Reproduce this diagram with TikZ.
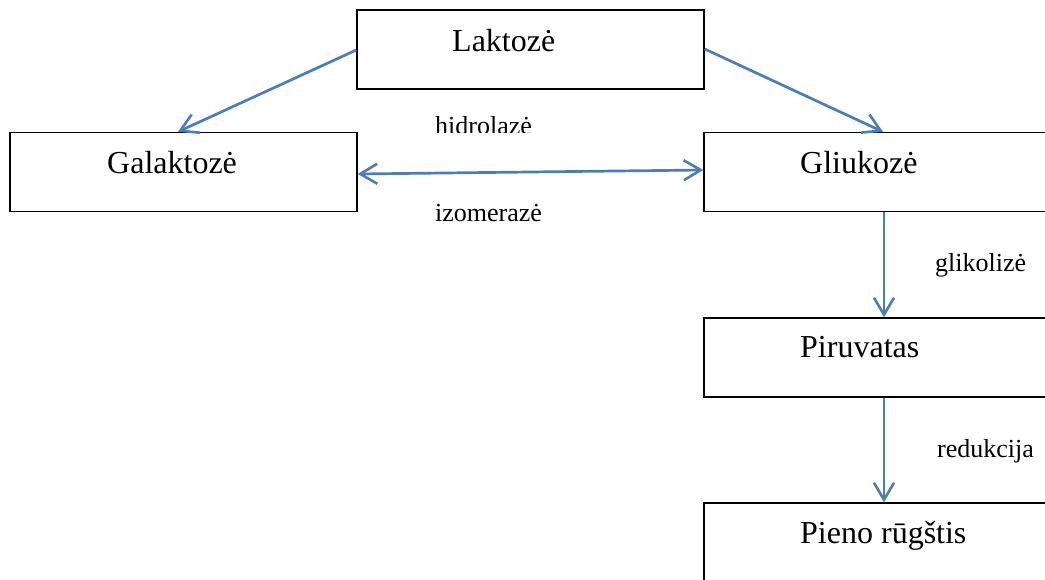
\documentclass[tikz,border=0pt]{standalone}
\usepackage{fontspec}
\setmainfont{Liberation Serif}
\usetikzlibrary{arrows.meta}
\definecolor{arrowblue}{HTML}{4A7EBB}
\tikzset{
  box/.style={draw=black, line width=1.4pt, rectangle, minimum width=347pt, minimum height=79pt, inner sep=0pt},
  boxtext/.style={anchor=base west, inner sep=0pt, font=\fontsize{32}{38}\selectfont},
  lbl/.style={anchor=base west, inner sep=0pt, font=\fontsize{26}{31}\selectfont},
  tip/.tip={Straight Barb[length=17pt,width=20pt,line width=2.6pt]},
  conn/.style={draw=arrowblue, line width=2.7pt, -tip},
  biconn/.style={draw=arrowblue, line width=2.7pt, tip-tip}
}
\begin{document}
\begin{tikzpicture}[x=1pt,y=-1pt]
\useasboundingbox (0,0) rectangle (1045,580);
\clip (0,0) rectangle (1045,580);
\fill[white] (0,0) rectangle (1045,580);
% boxes
\node[box] (lak) at (530.5,49.5) {};
\node[box] (gal) at (183.5,172) {};
\node[box] (glu) at (877.5,172) {};
\node[box] (pir) at (877.5,357.5) {};
\node[box] (pie) at (877.5,542.5) {};
% box texts
\node[boxtext] (laktxt) at (452,52) {Laktozė};
\node[boxtext] (galtxt) at (107,174) {Galaktozė};
\node[boxtext] (glutxt) at (800,174) {Gliukozė};
\node[boxtext] (pirtxt) at (800,357) {Piruvatas};
\node[boxtext] (pietxt) at (800,543) {Pieno rūgštis};
% labels
\begin{scope}
\clip (0,0) rectangle (1045,133);
\node[lbl] (hid) at (435,135) {hidrolazė};
\end{scope}
\node[lbl] (izo) at (435,222) {izomerazė};
\node[lbl] (gli) at (935,272) {glikolizė};
\node[lbl] (red) at (937,457) {redukcija};
% connectors
\draw[conn] ([yshift=-0.5pt]lak.west) -- ([xshift=-5.5pt]gal.north);
\draw[conn] ([yshift=0.5pt]lak.east) -- ([xshift=5.5pt]glu.north);
\draw[biconn] ([yshift=-2pt]gal.east) -- ([yshift=2pt]glu.west);
\draw[conn] ([xshift=6.5pt]glu.south) -- ([xshift=6.5pt]pir.north);
\draw[conn] ([xshift=6.5pt]pir.south) -- ([xshift=6.5pt]pie.north);
\end{tikzpicture}
\end{document}
